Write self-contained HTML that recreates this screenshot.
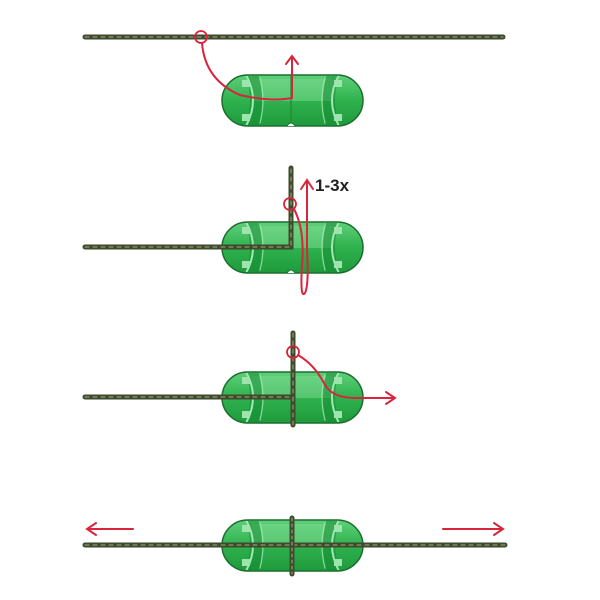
<!DOCTYPE html>
<html><head><meta charset="utf-8"><style>
html,body{margin:0;padding:0;background:#fff;width:600px;height:600px;overflow:hidden}
</style></head><body>
<svg width="600" height="600" viewBox="0 0 600 600" xmlns="http://www.w3.org/2000/svg">
<defs>
<linearGradient id="g" x1="0" y1="0" x2="0" y2="1">
<stop offset="0" stop-color="#5fd07a"/><stop offset="0.5" stop-color="#2fb24e"/><stop offset="1" stop-color="#1f9a3c"/>
</linearGradient>
<clipPath id="cc"><rect x="1" y="1" width="139" height="49" rx="24.5"/></clipPath>
<g id="cap">
<rect x="0" y="0" width="141" height="51" rx="25.5" fill="url(#g)"/>
<g clip-path="url(#cc)">
<rect x="30" y="4" width="81" height="22" fill="#7fdc93" opacity="0.5"/>
<path d="M30 0 Q38 25 30 51 M111 0 Q103 25 111 51" stroke="#168a34" stroke-width="12" fill="none" opacity="0.55"/>
<path d="M24 0 Q38 25 24 51" stroke="#a0eab0" stroke-width="2" fill="none"/>
<path d="M117 0 Q103 25 117 51" stroke="#a0eab0" stroke-width="2" fill="none"/>
<path d="M38 3 Q44 25 38 48 M103 3 Q97 25 103 48" stroke="#a0eab0" stroke-width="1.2" fill="none" opacity="0.8"/>
<rect x="20" y="5" width="8" height="7" fill="#9fe3ad"/><rect x="20" y="39" width="8" height="7" fill="#9fe3ad"/>
<rect x="112" y="5" width="8" height="7" fill="#9fe3ad"/><rect x="112" y="39" width="8" height="7" fill="#9fe3ad"/>
</g>
<rect x="0" y="0" width="141" height="51" rx="25.5" fill="none" stroke="#1a6e2e" stroke-width="1.5"/>
</g>
</defs>
<g fill="none" stroke-linecap="round">
<!-- Panel 1 -->
<line x1="85" y1="37" x2="503" y2="37" stroke="#3e4a2e" stroke-width="5"/>
<line x1="85" y1="37" x2="503" y2="37" stroke="#a8a878" stroke-width="1" stroke-dasharray="4 4"/>
<use href="#cap" x="222" y="75"/>
<line x1="291" y1="76" x2="291" y2="124" stroke="#1c8a38" stroke-width="2" opacity="0.6"/>
<path d="M287 126 Q291 120 295 126" fill="#fff" stroke="#1a6e2e" stroke-width="1"/>
<circle cx="201" cy="37" r="6" stroke="#d8253b" stroke-width="1.8"/>
<path d="M202 43 Q205 80 240 95 Q270 102 292 98 L292 58" stroke="#d8253b" stroke-width="2"/>
<path d="M286 64 L292 56 L298 64" stroke="#d8253b" stroke-width="2"/>
<!-- Panel 2 -->
<use href="#cap" x="222" y="222"/>
<path d="M287 273 Q291 267 295 273" fill="#fff" stroke="#1a6e2e" stroke-width="1"/>
<path d="M85 247 L291 247 L291 168" stroke="#3e4a2e" stroke-width="5"/>
<path d="M85 247 L291 247 L291 168" stroke="#a8a878" stroke-width="1" stroke-dasharray="4 4"/>
<circle cx="290" cy="204" r="6" stroke="#d8253b" stroke-width="1.8"/>
<path d="M294 209 Q305 230 302 265 Q300 300 305 293 Q309 285 307 250 L307 182" stroke="#d8253b" stroke-width="2"/>
<path d="M301 189 L307 180 L313 189" stroke="#d8253b" stroke-width="2"/>
<!-- Panel 3 -->
<use href="#cap" x="222" y="372"/>
<line x1="85" y1="397" x2="292" y2="397" stroke="#3e4a2e" stroke-width="5"/>
<line x1="85" y1="397" x2="292" y2="397" stroke="#a8a878" stroke-width="1" stroke-dasharray="4 4"/>
<line x1="293" y1="333" x2="293" y2="425" stroke="#3e4a2e" stroke-width="5"/>
<line x1="293" y1="333" x2="293" y2="425" stroke="#a8a878" stroke-width="1" stroke-dasharray="4 4"/>
<circle cx="293" cy="352" r="6" stroke="#d8253b" stroke-width="1.8"/>
<path d="M298 355 Q315 365 325 385 Q333 398 355 398 L394 398" stroke="#d8253b" stroke-width="2"/>
<path d="M386 392 L395 398 L386 404" stroke="#d8253b" stroke-width="2"/>
<!-- Panel 4 -->
<use href="#cap" x="222" y="520"/>
<line x1="85" y1="545" x2="505" y2="545" stroke="#3e4a2e" stroke-width="5"/>
<line x1="85" y1="545" x2="505" y2="545" stroke="#a8a878" stroke-width="1" stroke-dasharray="4 4"/>
<line x1="292" y1="518" x2="292" y2="574" stroke="#3e4a2e" stroke-width="5"/>
<line x1="292" y1="518" x2="292" y2="574" stroke="#a8a878" stroke-width="1" stroke-dasharray="3 3"/>
<path d="M133 529 L88 529 M96 523 L87 529 L96 535" stroke="#d8253b" stroke-width="2"/>
<path d="M443 529 L502 529 M494 523 L503 529 L494 535" stroke="#d8253b" stroke-width="2"/>
</g>
<text x="315" y="191" font-family="Liberation Sans, sans-serif" font-size="17" font-weight="bold" fill="#222">1-3x</text>
</svg>
</body></html>
